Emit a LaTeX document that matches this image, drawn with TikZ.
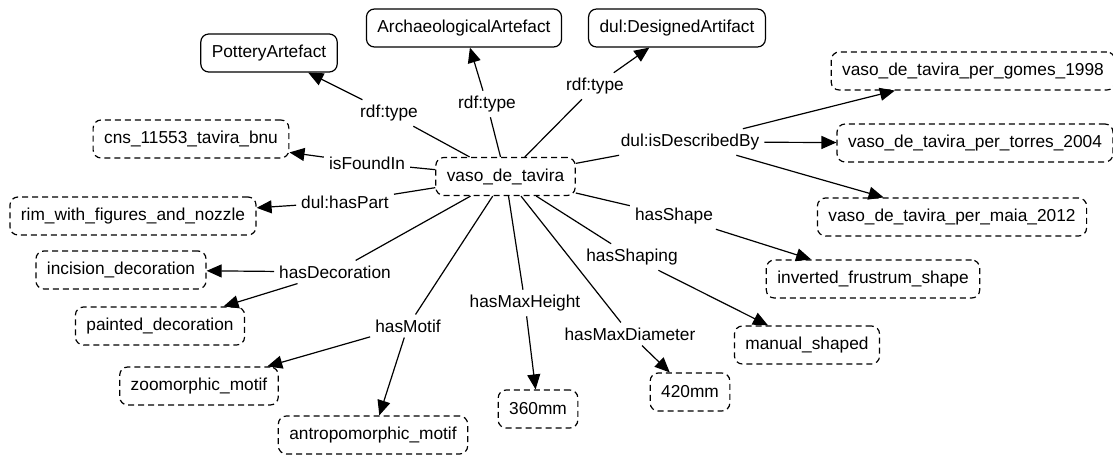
\documentclass[tikz,border=0pt]{standalone}
\usepackage{fontspec}
\setmainfont{Liberation Sans}
\usetikzlibrary{arrows.meta}

\begin{document}
\begin{tikzpicture}[x=1pt, y=-1pt,
  every node/.style={font=\fontsize{17.3}{20}\selectfont},
  classbox/.style={draw, rounded corners=8pt, line width=1.2pt, minimum height=38pt, inner xsep=11pt},
  instbox/.style={classbox, dash pattern=on 6pt off 4pt},
  prop/.style={inner sep=5pt},
  link/.style={line width=1.2pt},
  arc/.style={link, -{Triangle[length=15pt, width=13pt]}}]
  \useasboundingbox (0,0) rectangle (1113,458);

  % Central individual
  \node[instbox] (vaso) at (505.5,176.5) {vaso\_de\_tavira};

  % Classes
  \node[classbox] (pottery)  at (269,53) {PotteryArtefact};
  \node[classbox] (archaeo)  at (464,28) {ArchaeologicalArtefact};
  \node[classbox] (designed) at (677,28) {dul:DesignedArtifact};

  % Related individuals and values
  \node[instbox] (cns)        at (191,139) {cns\_11553\_tavira\_bnu};
  \node[instbox] (rim)        at (133,216) {rim\_with\_figures\_and\_nozzle};
  \node[instbox] (incision)   at (121,270) {incision\_decoration};
  \node[instbox] (painted)    at (160,326) {painted\_decoration};
  \node[instbox] (zoomorphic) at (199,386) {zoomorphic\_motif};
  \node[instbox] (antropo)    at (373,435) {antropomorphic\_motif};
  \node[instbox] (mm360)      at (538,409) {360mm};
  \node[instbox] (mm420)      at (690,392) {420mm};
  \node[instbox] (manual)     at (807,345) {manual\_shaped};
  \node[instbox] (frustrum)   at (873,279) {inverted\_frustrum\_shape};
  \node[instbox] (maia)       at (952,217) {vaso\_de\_tavira\_per\_maia\_2012};
  \node[instbox] (torres)     at (975,143) {vaso\_de\_tavira\_per\_torres\_2004};
  \node[instbox] (gomes)      at (973,71)  {vaso\_de\_tavira\_per\_gomes\_1998};

  % Property labels
  \node[prop] (rdfA)      at (389,113) {rdf:type};
  \node[prop] (rdfB)      at (487,104) {rdf:type};
  \node[prop] (rdfC)      at (595,86)  {rdf:type};
  \node[prop] (found)     at (367,163) {isFoundIn};
  \node[prop] (haspart)   at (345,202) {dul:hasPart};
  \node[prop] (decor)     at (335,272) {hasDecoration};
  \node[prop] (motif)     at (408,326) {hasMotif};
  \node[prop] (maxh)      at (525,303) {hasMaxHeight};
  \node[prop] (maxd)      at (630,334) {hasMaxDiameter};
  \node[prop] (shaping)   at (632,257) {hasShaping};
  \node[prop] (shape)     at (674,216) {hasShape};
  \node[prop] (described) at (690,142) {dul:isDescribedBy};

  % Subject to property
  \foreach \p in {rdfA, rdfB, rdfC, found, haspart, decor, motif, maxh, maxd, shaping, shape, described}
    \draw[link] (vaso) -- (\p);

  % Property to object
  \foreach \p/\o in {rdfA/pottery, rdfB/archaeo, rdfC/designed, found/cns, haspart/rim,
                     decor/incision, decor/painted, motif/zoomorphic, motif/antropo,
                     maxh/mm360, maxd/mm420, shaping/manual, shape/frustrum,
                     described/gomes, described/torres, described/maia}
    \draw[arc] (\p) -- (\o);
\end{tikzpicture}
\end{document}
